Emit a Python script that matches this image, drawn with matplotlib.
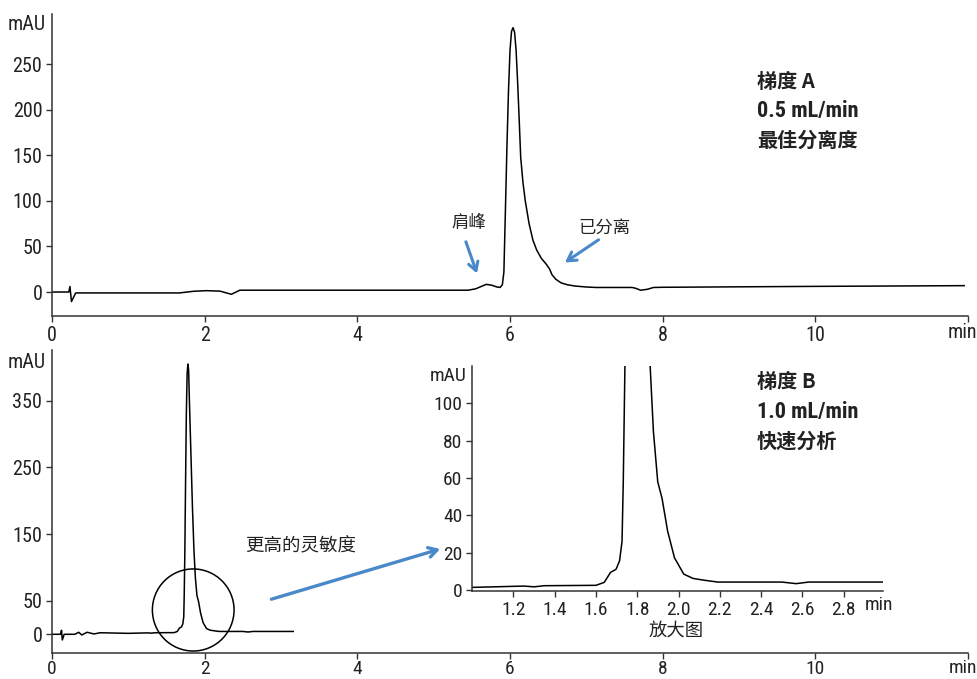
import matplotlib
matplotlib.use("Agg")
import matplotlib.pyplot as plt
from matplotlib import font_manager
from matplotlib.patches import Ellipse

# ---------------- data ----------------
# Gradient A (0.5 mL/min)
tA = [0, 0.22, 0.235, 0.255, 0.31, 1.67, 1.85, 2.02, 2.2, 2.35, 2.46, 2.6, 5.45, 5.55, 5.62, 5.69,
      5.76, 5.83, 5.87, 5.90, 5.92, 5.94, 5.96, 5.98, 6.00, 6.02, 6.04, 6.06, 6.08, 6.10, 6.12, 6.14,
      6.17, 6.20, 6.25, 6.30, 6.35, 6.41, 6.45, 6.48, 6.52, 6.55, 6.60, 6.67, 6.75, 6.85, 7.0, 7.13,
      7.6, 7.65, 7.71, 7.8, 7.88, 8.0, 9.0, 10.0, 11.0, 11.95]
yA = [0, 0, 6, -10.5, -1, -1, 0.8, 1.5, 1, -2.5, 2, 2, 2, 3.5, 6, 8.4,
      7.5, 5.5, 5, 8, 22, 90, 160, 220, 265, 286, 290, 285, 265, 230, 190, 148,
      120, 100, 75, 57, 46, 37, 33, 30, 25, 19, 14, 10, 8, 6.6, 5.5, 5,
      5, 4, 2, 3, 5, 5.2, 5.7, 6.2, 6.6, 7]

# Gradient B (1.0 mL/min)
tB = [0, 0.11, 0.125, 0.135, 0.16, 0.30, 0.35, 0.39, 0.46, 0.55, 0.63, 1.0, 1.25, 1.3, 1.35, 1.6,
      1.64, 1.67, 1.697, 1.714, 1.726, 1.732, 1.74, 1.75, 1.76, 1.77, 1.78, 1.79, 1.80, 1.82, 1.84,
      1.86, 1.878, 1.899, 1.92, 1.947, 1.98, 2.025, 2.07, 2.12, 2.19, 2.5, 2.57, 2.63, 3.16]
yB = [0, 0, 6, -8.5, 0, 0, 3, -1, 3, 0.5, 2.3, 1.4, 2.1, 1.7, 2.3, 2.5,
      4.1, 9.4, 11.1, 15.6, 26, 58, 120, 230, 330, 390, 405, 395, 350, 270, 190,
      125, 85, 58, 49, 31.5, 17.3, 8.5, 6.2, 5.3, 4.25, 4.25, 3.4, 4.25, 4.25]

main_xticks = [0, 2, 4, 6, 8, 10, 12]
main_xlabels = ["0", "2", "4", "6", "8", "10", ""]
top_yticks = [0, 50, 100, 150, 200, 250]
bot_yticks = [0, 50, 150, 250, 350]
inset_xticks = [1.2, 1.4, 1.6, 1.8, 2.0, 2.2, 2.4, 2.6, 2.8]
inset_xlabels = ["1.2", "1.4", "1.6", "1.8", "2.0", "2.2", "2.4", "2.6", "2.8"]
inset_yticks = [0, 20, 40, 60, 80, 100]

# ---------------- fonts ----------------
avail = {f.name for f in font_manager.fontManager.ttflist}
NUM = "DejaVu Sans"
for cand in ["Liberation Sans Narrow", "Roboto Condensed", "Open Sans Condensed",
             "DejaVu Sans Condensed", "Roboto"]:
    if cand in avail:
        NUM = cand
        break
CJK = "Noto Sans CJK SC"
plt.rcParams["font.family"] = [NUM, CJK, "DejaVu Sans"]

W, H = 977, 679
fig = plt.figure(figsize=(W / 100, H / 100), dpi=100)


def fx(x):
    return x / W


def fy(y):
    return 1 - y / H


AX_COL = "#333333"
TXT_COL = "#222222"
BLUE = "#4a89c9"
FS = 14.5
FSI = 14


def style(ax, fs=FS):
    for s in ["top", "right"]:
        ax.spines[s].set_visible(False)
    for s in ["left", "bottom"]:
        ax.spines[s].set_color(AX_COL)
        ax.spines[s].set_linewidth(1.1)
    ax.tick_params(direction="out", length=4.5, width=1.0, color=AX_COL,
                   labelcolor=TXT_COL, labelsize=fs, pad=2.5)
    ax.patch.set_alpha(0)


ARROW = dict(arrowstyle="->,head_length=0.6,head_width=0.35", color=BLUE, lw=2.2)

# ---------------- top axes ----------------
axA = fig.add_axes([fx(52), fy(316), fx(968) - fx(52), fy(14) - fy(316)])
axA.plot(tA, yA, color="black", lw=1.1)
axA.set_xlim(0, 12)
axA.set_ylim(-26.3, 305)
axA.set_xticks(main_xticks)
axA.set_xticklabels(main_xlabels)
axA.set_yticks(top_yticks)
style(axA)
fig.text(fx(27), fy(25), "mAU", ha="center", va="center", fontsize=FS, color=TXT_COL)
fig.text(fx(977), fy(332), "min", ha="right", va="center", fontsize=FS, color=TXT_COL)

axA.annotate("", xy=(5.58, 17.5), xytext=(5.41, 58), arrowprops=ARROW)
axA.text(5.46, 76, "肩峰", ha="center", va="center", fontsize=12.5, color=TXT_COL, family=[CJK])
axA.annotate("", xy=(6.69, 30.7), xytext=(7.19, 59), arrowprops=ARROW)
axA.text(7.24, 71, "已分离", ha="center", va="center", fontsize=12.5, color=TXT_COL, family=[CJK])

fig.text(fx(757), fy(81), "梯度 A", ha="left", va="center", fontsize=14.5, weight="bold",
         color=TXT_COL, family=[CJK])
fig.text(fx(757), fy(111), "0.5 mL/min", ha="left", va="center", fontsize=16, weight="bold",
         color=TXT_COL, family=[NUM, "DejaVu Sans"])
fig.text(fx(757), fy(140), "最佳分离度", ha="left", va="center", fontsize=14.5, weight="bold",
         color=TXT_COL, family=[CJK])

# ---------------- bottom axes ----------------
axB = fig.add_axes([fx(52), fy(652.7), fx(968) - fx(52), fy(350) - fy(652.7)])
axB.plot(tB, yB, color="black", lw=1.1)
axB.set_xlim(0, 12)
axB.set_ylim(-27.6, 426)
axB.set_xticks(main_xticks)
axB.set_xticklabels(main_xlabels)
axB.set_yticks(bot_yticks)
style(axB)
axB.tick_params(axis="x", pad=1.0, labelsize=14)
fig.text(fx(27), fy(362), "mAU", ha="center", va="center", fontsize=FS, color=TXT_COL)
fig.text(fx(977), fy(668), "min", ha="right", va="center", fontsize=14, color=TXT_COL)

axB.add_patch(Ellipse((1.85, 36.4), 1.07, 123, fill=False, edgecolor="black", lw=1.1))
axB.annotate("", xy=(5.12, 129), xytext=(2.84, 51.4),
             arrowprops=dict(ARROW, lw=2.4))
axB.text(3.26, 132, "更高的灵敏度", ha="center", va="center", fontsize=13.3, color=TXT_COL,
         family=[CJK])

fig.text(fx(757), fy(382), "梯度 B", ha="left", va="center", fontsize=14.5, weight="bold",
         color=TXT_COL, family=[CJK])
fig.text(fx(757), fy(412), "1.0 mL/min", ha="left", va="center", fontsize=16, weight="bold",
         color=TXT_COL, family=[NUM, "DejaVu Sans"])
fig.text(fx(757), fy(441), "快速分析", ha="left", va="center", fontsize=14.5, weight="bold",
         color=TXT_COL, family=[CJK])

# ---------------- inset ----------------
axI = fig.add_axes([fx(472.2), fy(591.3), fx(882.9) - fx(472.2), fy(366) - fy(591.3)])
axI.plot(tB, yB, color="black", lw=1.1)
axI.set_xlim(1.0, 2.99)
axI.set_ylim(-0.7, 120)
axI.set_xticks(inset_xticks)
axI.set_xticklabels(inset_xlabels)
axI.set_yticks(inset_yticks)
style(axI, fs=FSI)
fig.text(fx(879), fy(605), "min", ha="center", va="center", fontsize=FSI, color=TXT_COL)
fig.text(fx(448), fy(376), "mAU", ha="center", va="center", fontsize=FSI, color=TXT_COL)
fig.text(fx(676), fy(631), "放大图", ha="center", va="center", fontsize=13.2, color=TXT_COL,
         family=[CJK])

fig.savefig("out.png", dpi=100)
